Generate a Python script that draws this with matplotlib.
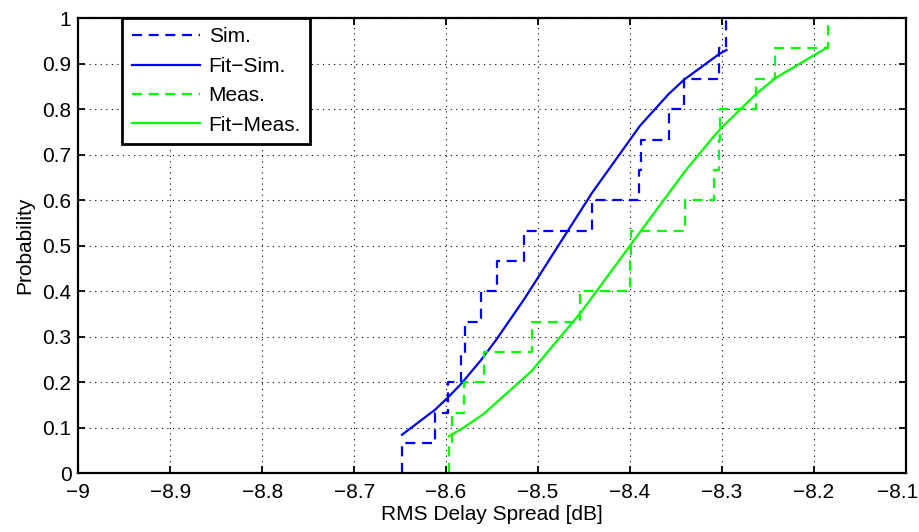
import matplotlib
matplotlib.use("Agg")
import matplotlib.pyplot as plt
import numpy as np

plt.rcParams['font.family'] = ['Liberation Sans', 'DejaVu Sans']

# --- Empirical CDF sample points (sorted) ---
sim_x = [-8.648, -8.612, -8.598, -8.584, -8.579, -8.562, -8.545, -8.515,
         -8.441, -8.390, -8.388, -8.358, -8.341, -8.303, -8.295]
meas_x = [-8.597, -8.594, -8.580, -8.559, -8.507, -8.454, -8.400, -8.399,
          -8.340, -8.309, -8.303, -8.302, -8.263, -8.242, -8.185]
cdf_levels = [1/15, 2/15, 3/15, 4/15, 5/15, 6/15, 7/15, 8/15,
              9/15, 10/15, 11/15, 12/15, 13/15, 14/15, 15/15]

# --- Fitted CDF values at the same points ---
fit_sim_y = [0.085, 0.140, 0.167, 0.196, 0.208, 0.249, 0.295, 0.383,
             0.617, 0.761, 0.766, 0.833, 0.865, 0.921, 0.930]
fit_meas_y = [0.082, 0.085, 0.102, 0.131, 0.225, 0.352, 0.500, 0.503,
              0.664, 0.740, 0.753, 0.756, 0.833, 0.868, 0.936]

xtick_labels = ['\u22129', '\u22128.9', '\u22128.8', '\u22128.7', '\u22128.6',
                '\u22128.5', '\u22128.4', '\u22128.3', '\u22128.2', '\u22128.1']
ytick_labels = ['0', '0.1', '0.2', '0.3', '0.4', '0.5', '0.6', '0.7', '0.8', '0.9', '1']

BLUE = '#0000ff'
GREEN = '#00ff00'
DASH = (0, (4.5, 3))

fig = plt.figure(figsize=(9.2, 5.32), dpi=100)
ax = fig.add_axes([0.0852, 0.110, 0.8993, 0.856])

sx = np.r_[sim_x[0], sim_x]
sy = np.r_[0, cdf_levels]
mx = np.r_[meas_x[0], meas_x]
my = np.r_[0, cdf_levels]

ax.step(sx, sy, where='post', color=BLUE, linestyle=DASH, linewidth=1.6, label='Sim.')
ax.plot(sim_x, fit_sim_y, color=BLUE, linewidth=1.6, label='Fit\u2212Sim.')
ax.step(mx, my, where='post', color=GREEN, linestyle=DASH, linewidth=1.6, label='Meas.')
ax.plot(meas_x, fit_meas_y, color=GREEN, linewidth=1.6, label='Fit\u2212Meas.')

ax.set_xlim(-9, -8.1)
ax.set_ylim(0, 1)
xticks = np.linspace(-9, -8.1, 10)
ax.set_xticks(xticks)
# the last label is drawn separately, nudged left so it stays inside the figure
ax.set_xticklabels(xtick_labels[:-1] + [''])
ax.annotate(xtick_labels[-1], xy=(xticks[-1], 0), xycoords=('data', 'axes fraction'),
            xytext=(-6, -7), textcoords='offset points', ha='center', va='top',
            fontsize=15, annotation_clip=False)
ax.set_yticks(np.linspace(0, 1, 11))
ax.set_yticklabels(ytick_labels)

ax.grid(True, color='black', linestyle=(0, (1, 4)), linewidth=0.8)
ax.tick_params(direction='in', length=5, width=1.3, labelsize=15, pad=5,
               top=True, right=True, labeltop=False, labelright=False)
ax.tick_params(axis='x', pad=7)
for sp in ax.spines.values():
    sp.set_linewidth(1.6)

ax.set_xlabel('RMS Delay Spread [dB]', fontsize=15, labelpad=2)
ax.set_ylabel('Probability', fontsize=15, labelpad=6)

leg = ax.legend(loc='upper left', bbox_to_anchor=(0.053, 1.0), fontsize=15,
                frameon=True, fancybox=False, framealpha=1, edgecolor='black',
                handlelength=3.3, borderpad=0.45, labelspacing=0.5,
                handletextpad=0.4, borderaxespad=0.0)
leg.get_frame().set_linewidth(2.0)

fig.savefig('out.png', dpi=100)
